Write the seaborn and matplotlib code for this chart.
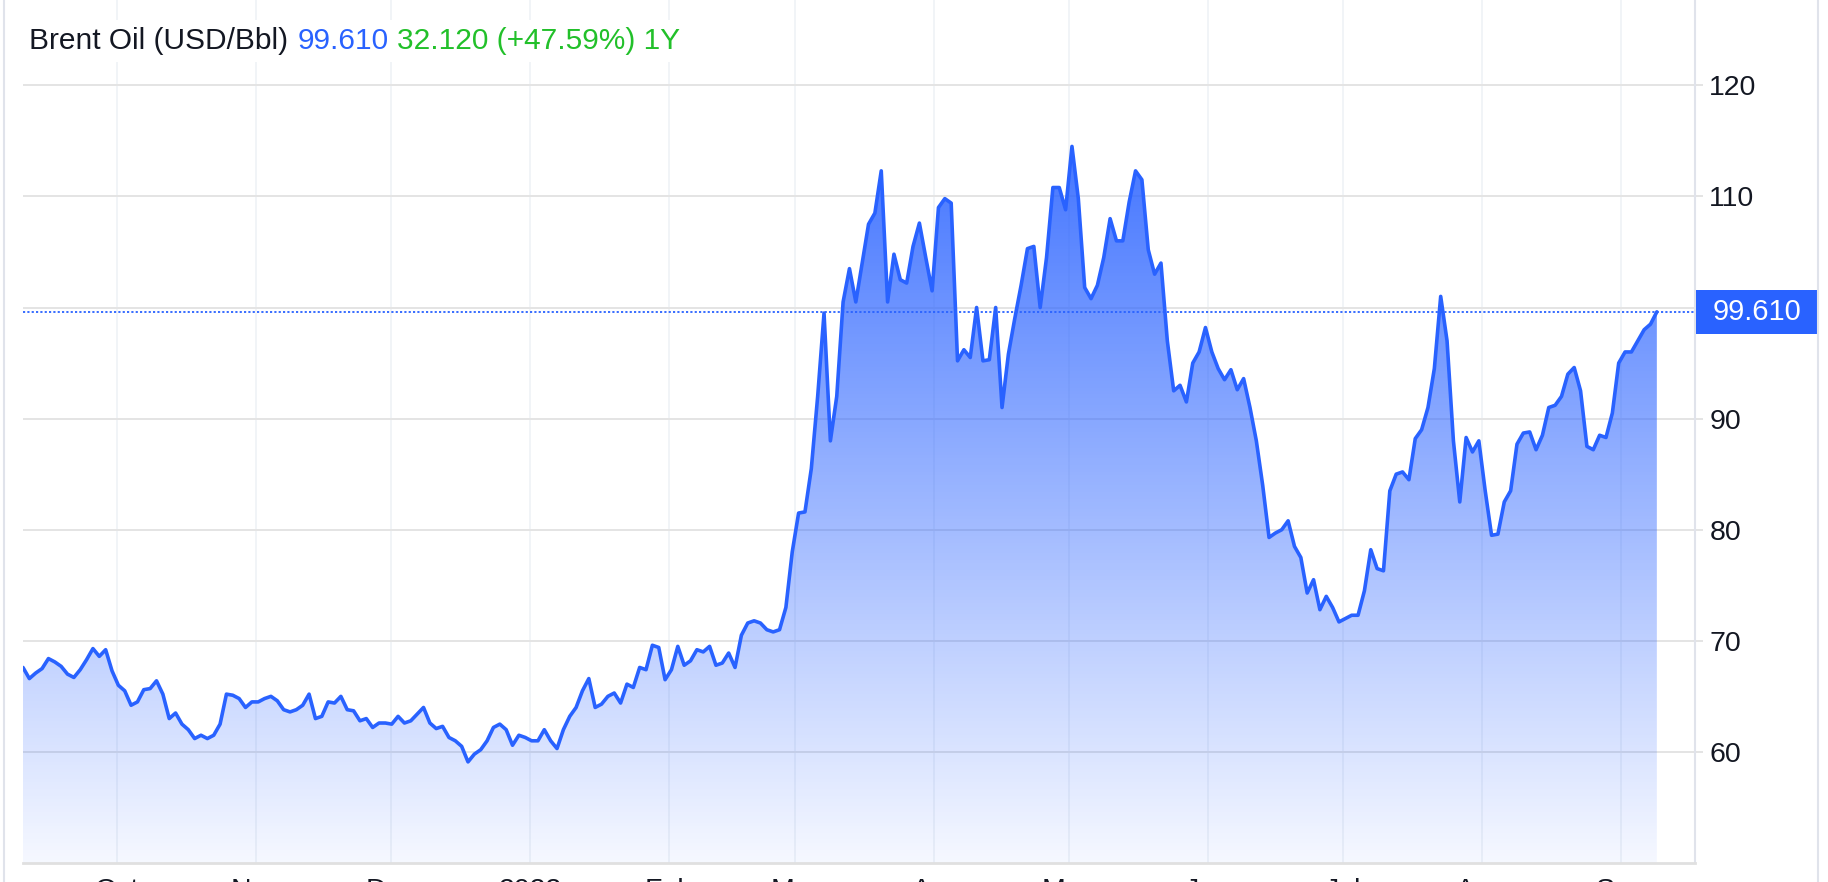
import numpy as np
import pandas as pd
import seaborn as sns
import matplotlib.pyplot as plt
import matplotlib.colors as mcolors
import matplotlib.dates as mdates
import matplotlib.transforms as mtransforms
from matplotlib.patches import Rectangle
from matplotlib.lines import Line2D

# Brent daily closes (USD/Bbl)
price = [
    67.6, 66.6, 67.1, 67.5, 68.4, 68.1, 67.7, 67.0, 66.7, 67.4,
    68.3, 69.3, 68.6, 69.2, 67.3, 66.0, 65.5, 64.2, 64.5, 65.6,
    65.7, 66.4, 65.2, 63.0, 63.5, 62.5, 62.0, 61.2, 61.5, 61.2,
    61.5, 62.5, 65.2, 65.1, 64.8, 64.0, 64.5, 64.5, 64.8, 65.0,
    64.6, 63.8, 63.6, 63.8, 64.2, 65.2, 63.0, 63.2, 64.5, 64.4,
    65.0, 63.8, 63.7, 62.8, 63.0, 62.2, 62.6, 62.6, 62.5, 63.2,
    62.6, 62.8, 63.4, 64.0, 62.6, 62.1, 62.3, 61.3, 61.0, 60.5,
    59.1, 59.8, 60.2, 61.0, 62.2, 62.5, 62.0, 60.6, 61.5, 61.3,
    61.0, 61.0, 62.0, 61.0, 60.3, 62.0, 63.2, 64.0, 65.5, 66.6,
    64.0, 64.3, 65.0, 65.3, 64.4, 66.1, 65.8, 67.6, 67.4, 69.6,
    69.4, 66.5, 67.4, 69.5, 67.8, 68.2, 69.2, 69.0, 69.5, 67.8,
    68.0, 68.9, 67.6, 70.5, 71.6, 71.8, 71.6, 71.0, 70.8, 71.0,
    73.0, 78.0, 81.5, 81.6, 85.5, 92.0, 99.5, 88.0, 92.0, 100.5,
    103.5, 100.5, 104.0, 107.5, 108.5, 112.3, 100.5, 104.8, 102.5, 102.2,
    105.5, 107.6, 104.5, 101.5, 109.0, 109.8, 109.4, 95.2, 96.2, 95.5,
    100.0, 95.2, 95.3, 100.0, 91.0, 95.8, 99.0, 102.0, 105.3, 105.5,
    100.0, 104.5, 110.8, 110.8, 108.8, 114.5, 109.8, 101.8, 100.8, 102.0,
    104.5, 108.0, 106.0, 106.0, 109.5, 112.3, 111.5, 105.2, 103.0, 104.0,
    97.0, 92.5, 93.0, 91.5, 95.0, 96.0, 98.2, 96.0, 94.5, 93.5,
    94.4, 92.6, 93.6, 91.0, 88.0, 84.0, 79.3, 79.7, 80.0, 80.8,
    78.5, 77.5, 74.3, 75.5, 72.8, 74.0, 73.0, 71.7, 72.0, 72.3,
    72.3, 74.5, 78.2, 76.5, 76.3, 83.5, 85.0, 85.2, 84.5, 88.2,
    89.0, 91.0, 94.5, 101.0, 97.0, 88.0, 82.5, 88.3, 87.0, 88.0,
    83.5, 79.5, 79.6, 82.5, 83.5, 87.7, 88.7, 88.8, 87.2, 88.5,
    91.0, 91.2, 92.0, 94.0, 94.6, 92.5, 87.5, 87.2, 88.5, 88.3,
    90.5, 95.0, 96.0, 96.0, 97.0, 98.0, 98.5, 99.61,
]
start_date = "2021-09-10"
end_date = "2022-09-09"
month_ticks = ["2021-10-01", "2021-11-01", "2021-12-01", "2022-01-01",
               "2022-02-01", "2022-03-01", "2022-04-01", "2022-05-01",
               "2022-06-01", "2022-07-01", "2022-08-01", "2022-09-01"]
month_labels = ["Oct", "Nov", "Dec", "2022", "Feb", "Mar", "Apr", "May",
                "Jun", "Jul", "Aug", "Sep"]
y_ticks = [60, 70, 80, 90, 100, 110, 120]
# the 100 label sits under the last-price tag, so it is not shown
y_labels = ["60", "70", "80", "90", "", "110", "120"]
title_name = "Brent Oil (USD/Bbl)"
last_text = "99.610"
change_text = "32.120 (+47.59%) 1Y"

dates = pd.date_range(start_date, end_date, periods=len(price))
df = pd.DataFrame({"date": dates, "price": price})

sns.set_theme(style="white")
plt.rcParams["font.family"] = ["Liberation Sans", "DejaVu Sans"]

BLUE = "#2962ff"
GREEN = "#22c02a"
INK = "#131722"
W, H = 1828, 882

fig = plt.figure(figsize=(W / 100, H / 100), dpi=100)
ax = fig.add_axes([23 / W, 19 / H, (1695 - 23) / W, 863 / H])
ymin, ymax = 50, 127.68

# gradient area under the line
poly = ax.fill_between(df["date"], df["price"], ymin, facecolor="none", edgecolor="none")
n = 256
levels = np.linspace(ymin, ymax, n)
grad = np.zeros((n, 1, 4))
grad[..., :3] = mcolors.to_rgb(BLUE)
grad[:, 0, 3] = np.clip(0.044 + (levels - ymin) * 0.0129, 0, 0.85)
x0, x1 = mdates.date2num(dates[0]), mdates.date2num(dates[-1])
im = ax.imshow(grad, origin="lower", aspect="auto", extent=[x0, x1, ymin, ymax], zorder=1)
im.set_clip_path(poly.get_paths()[0], transform=ax.transData)

sns.lineplot(data=df, x="date", y="price", ax=ax, color=BLUE, linewidth=2.6, zorder=3)
ax.axhline(price[-1], color=BLUE, lw=1.3, ls=(0, (1.2, 1.2)), zorder=2)

ax.set_xlim(dates[0], pd.Timestamp("2022-09-17 12:00"))
ax.set_ylim(ymin, ymax)
ax.set_xticks(pd.to_datetime(month_ticks))
ax.set_xticklabels(month_labels)
ax.set_yticks(y_ticks)
ax.set_yticklabels(y_labels)
ax.set_xlabel("")
ax.set_ylabel("")
ax.set_axisbelow(True)
ax.grid(axis="y", color="#e4e4e4", lw=1.4)
ax.grid(axis="x", color="#eef1f5", lw=1.1)

for side in ["top", "left"]:
    ax.spines[side].set_visible(False)
ax.spines["right"].set_color("#e0e3eb")
ax.spines["right"].set_linewidth(1.5)
ax.spines["bottom"].set_color("#e0e0e0")
ax.spines["bottom"].set_linewidth(2)

ax.yaxis.tick_right()
ax.tick_params(axis="y", length=5.8, width=1.4, color="#e4e4e4", pad=4.5,
               labelsize=20.5, labelcolor=INK)
ax.tick_params(axis="x", length=0, pad=11, labelsize=20.5, labelcolor=INK)

# last price tag on the axis
tr = mtransforms.blended_transform_factory(fig.transFigure, ax.transData)
ax.add_patch(Rectangle((1696 / W, price[-1] - 1.98), (1818 - 1696) / W, 3.96,
                       transform=tr, facecolor=BLUE, edgecolor="none",
                       clip_on=False, zorder=5))
ax.text(1757 / W, price[-1], last_text, transform=tr, ha="center", va="center",
        color="white", fontsize=21, zorder=6, clip_on=False)

# header
box = dict(facecolor="white", edgecolor="none", pad=5)
t1 = fig.text(29 / W, 1 - 41 / H, title_name, ha="left", va="center",
              fontsize=21.5, color=INK, bbox=box)
t2 = ax.annotate(last_text, xy=(1, 0), xycoords=t1, xytext=(6.5, 0),
                 textcoords="offset points", ha="left", va="bottom",
                 fontsize=21.5, color=BLUE, bbox=box, annotation_clip=False)
ax.annotate(change_text, xy=(1, 0), xycoords=t2, xytext=(6.5, 0),
            textcoords="offset points", ha="left", va="bottom",
            fontsize=21.5, color=GREEN, bbox=box, annotation_clip=False)

# panel borders
fig.add_artist(Line2D([4 / W, 4 / W], [0, 1], transform=fig.transFigure,
                      color="#e0e3eb", lw=1.5))
fig.add_artist(Line2D([1818 / W, 1818 / W], [0, 1], transform=fig.transFigure,
                      color="#e0e3eb", lw=1.5))

fig.savefig("out.png", dpi=100)
